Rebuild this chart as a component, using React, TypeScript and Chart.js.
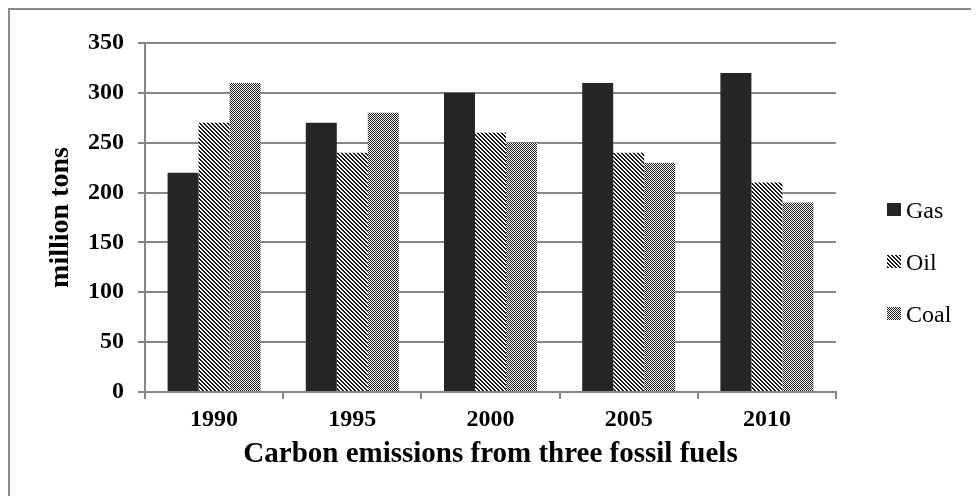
import React, { useEffect, useRef } from 'react';
import { Chart, registerables } from 'chart.js';

Chart.register(...registerables);

const categories = ['1990', '1995', '2000', '2005', '2010'];
const seriesNames = ['Gas', 'Oil', 'Coal'];
const gasValues = [220, 270, 300, 310, 320];
const oilValues = [270, 240, 260, 240, 210];
const coalValues = [310, 280, 250, 230, 190];
const yMin = 0;
const yMax = 350;
const yStep = 50;
const xAxisTitle = 'Carbon emissions from three fossil fuels';
const yAxisTitle = 'million tons';

const FONT = '"Liberation Serif", "Times New Roman", serif';
const GRID = '#868686';

function makePattern(ctx: CanvasRenderingContext2D, rows: string[]) {
  const c = document.createElement('canvas');
  c.width = rows[0].length;
  c.height = rows.length;
  const p = c.getContext('2d')!;
  p.fillStyle = '#ffffff';
  p.fillRect(0, 0, c.width, c.height);
  p.fillStyle = '#1a1a1a';
  rows.forEach((r, y) => {
    r.split('').forEach((ch, x) => {
      if (ch === 'X') p.fillRect(x, y, 1, 1);
    });
  });
  return ctx.createPattern(c, 'repeat') as CanvasPattern;
}

const legendPlugin = {
  id: 'sideLegend',
  afterDraw(chart: any) {
    const ctx = chart.ctx as CanvasRenderingContext2D;
    const baselines = [208, 260, 312];
    ctx.save();
    chart.data.datasets.forEach((ds: any, i: number) => {
      const b = baselines[i];
      ctx.fillStyle = ds.backgroundColor;
      ctx.fillRect(877, b - 15, 14, 13);
      ctx.fillStyle = '#000';
      ctx.font = `24px ${FONT}`;
      ctx.textBaseline = 'alphabetic';
      ctx.textAlign = 'left';
      ctx.fillText(ds.label, 896, b);
    });
    ctx.restore();
  },
};

export default function App() {
  const ref = useRef<HTMLCanvasElement>(null);

  useEffect(() => {
    const canvas = ref.current!;
    const ctx = canvas.getContext('2d')!;
    const solid = '#262626';
    const stripes = makePattern(ctx, ['XX..', '.XX.', '..XX', 'X..X']);
    const dots = makePattern(ctx, ['X.X.', '.X.X', 'X.X.', '.X.X']);
    const fills = [solid, stripes, dots];
    const values = [gasValues, oilValues, coalValues];

    const chart = new Chart(canvas, {
      type: 'bar',
      data: {
        labels: categories,
        datasets: seriesNames.map((name, i) => ({
          label: name,
          data: values[i],
          backgroundColor: fills[i] as any,
          borderWidth: 0,
          categoryPercentage: 0.673,
          barPercentage: 1,
        })),
      },
      options: {
        responsive: false,
        animation: false,
        devicePixelRatio: 1,
        layout: { padding: { left: 0, right: 135, top: 33, bottom: 0 } },
        plugins: {
          legend: { display: false },
          tooltip: { enabled: false },
        },
        scales: {
          x: {
            afterFit: (s: any) => {
              s.height = 104;
            },
            grid: {
              offset: true,
              drawOnChartArea: false,
              drawTicks: true,
              tickLength: 7,
              color: GRID,
              lineWidth: 2,
            },
            border: { display: true, color: GRID, width: 2 },
            ticks: {
              color: '#000',
              padding: 6,
              font: { family: FONT, size: 24, weight: 'bold' },
            },
            title: {
              display: true,
              text: xAxisTitle,
              color: '#000',
              padding: { top: 0, bottom: 24 },
              font: { family: FONT, size: 29, weight: 'bold' },
            },
          },
          y: {
            min: yMin,
            max: yMax,
            afterFit: (s: any) => {
              s.width = 135;
            },
            ticks: {
              stepSize: yStep,
              color: '#000',
              padding: 14,
              font: { family: FONT, size: 24, weight: 'bold' },
            },
            grid: {
              color: GRID,
              lineWidth: 2,
              drawTicks: true,
              tickLength: 7,
            },
            border: { display: true, color: GRID, width: 2 },
            title: {
              display: true,
              text: yAxisTitle,
              color: '#000',
              padding: { top: 34, bottom: 0 },
              font: { family: FONT, size: 28, weight: 'bold' },
            },
          },
        },
      },
      plugins: [legendPlugin],
    });
    return () => chart.destroy();
  }, []);

  return (
    <div
      style={{
        width: 961,
        height: 486,
        borderTop: '2px solid #8a8a8a',
        borderLeft: '2px solid #8a8a8a',
        background: '#fff',
      }}
    >
      <canvas ref={ref} width={961} height={486} style={{ display: 'block' }} />
    </div>
  );
}
